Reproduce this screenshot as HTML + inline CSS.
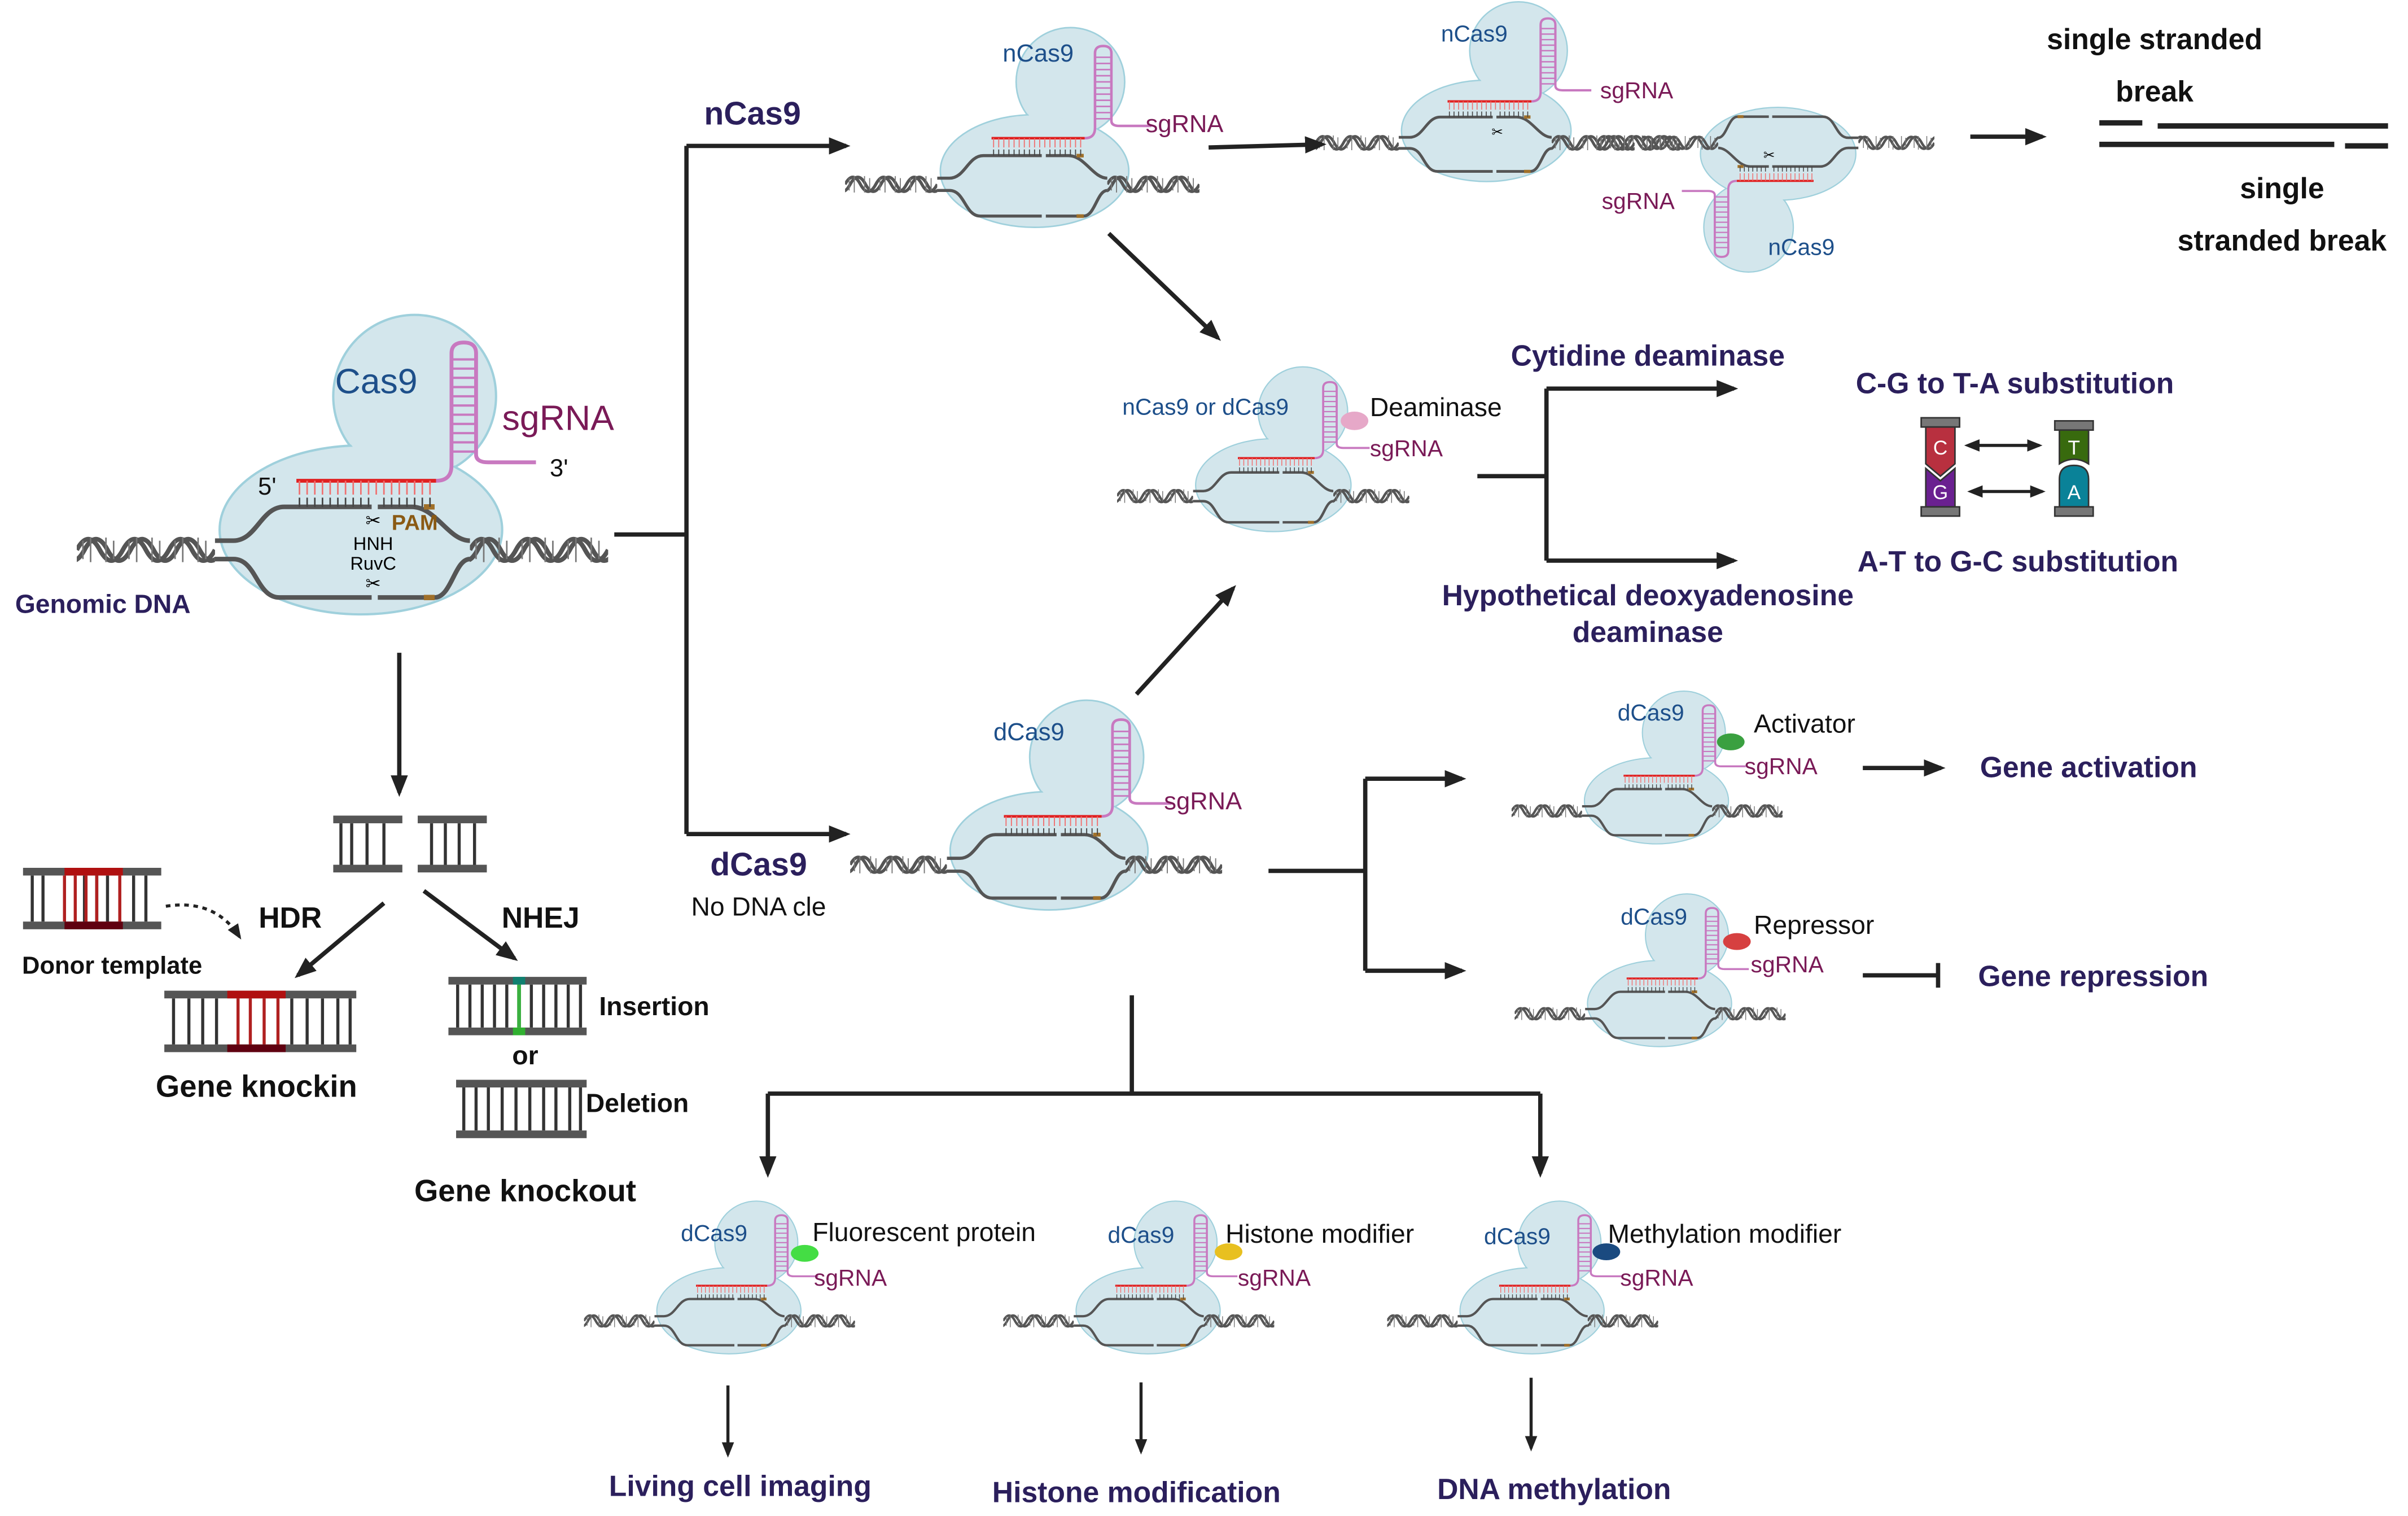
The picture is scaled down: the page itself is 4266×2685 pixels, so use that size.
<!DOCTYPE html>
<html><head><meta charset="utf-8"><style>
html,body{margin:0;padding:0;background:#fff;}
svg{display:block;}
text{font-family:"Liberation Sans",sans-serif;}
.b{font-weight:bold;fill:#111;font-size:19px;}
.p{font-weight:bold;fill:#2b1f5c;font-size:19px;}
.blue{fill:#1d4f8a;font-size:15px;}
.sg{fill:#7a1a57;font-size:15px;}
.blk{fill:#111;font-size:17px;}
</style></head><body>
<svg width="4266" height="2685" viewBox="0 0 1568 987" preserveAspectRatio="none" xmlns="http://www.w3.org/2000/svg">
<defs>
<marker id="ah" markerWidth="5" markerHeight="4" refX="4" refY="2" orient="auto" markerUnits="strokeWidth"><path d="M0,0 L5,2 L0,4z" fill="#222"/></marker>
<marker id="ah2" markerWidth="5" markerHeight="4" refX="1" refY="2" orient="auto-start-reverse" markerUnits="strokeWidth"><path d="M0,0 L5,2 L0,4z" fill="#222"/></marker>
<clipPath id="hc"><rect x="0" y="-15" width="90" height="30"/></clipPath>
<g id="helix">
<g clip-path="url(#hc)">
<path d="M0,0 q7.5,-14 15,0 t15,0 t15,0 t15,0 t15,0 t15,0" fill="none" stroke="#555" stroke-width="3"/>
<path d="M-10,0 q7.5,14 15,0 t15,0 t15,0 t15,0 t15,0 t15,0 t15,0" fill="none" stroke="#555" stroke-width="3"/>
<path d="M4,-6v12M9,-8v16M19,-8v16M24,-6v12M34,-6v12M39,-8v16M49,-8v16M54,-6v12M64,-6v12M69,-8v16M79,-8v16M84,-6v12" stroke="#777" stroke-width="1"/>
</g>
</g>
<g id="cx">
<circle cx="48" cy="-100" r="53" fill="#d3e6ec" stroke="#9fd0dc" stroke-width="1.5"/>
<ellipse cx="13" cy="-13" rx="92" ry="55" fill="#d3e6ec" stroke="#9fd0dc" stroke-width="1.5"/>
<circle cx="48" cy="-100" r="52" fill="#d3e6ec"/>
<ellipse cx="13" cy="-13" rx="91" ry="54" fill="#d3e6ec"/>
<use href="#helix" x="-172" y="0"/>
<use href="#helix" x="84" y="0"/>
<path d="M-82,-6 H-70 C-55,-6 -52,-28 -37,-28 H20 M24,-28 H46 C62,-28 70,-6 84,-6" fill="none" stroke="#555" stroke-width="3"/>
<path d="M-82,6 H-70 C-55,6 -55,31 -40,31 H20 M24,31 H61 C72,31 74,6 84,6" fill="none" stroke="#555" stroke-width="3"/>
<path d="M54,-28H61M54,31H61" stroke="#a0702a" stroke-width="3.5"/>
<path d="M-29,-45 H62" stroke="#e02020" stroke-width="2.5"/>
<path d="M-27,-45v9M-22,-45v9M-17,-45v9M-12,-45v9M-7,-45v9M-2,-45v9M3,-45v9M8,-45v9M13,-45v9M18,-45v9M23,-45v9M28,-45v9M33,-45v9M38,-45v9M43,-45v9M48,-45v9M53,-45v9M58,-45v9" stroke="#f07070" stroke-width="1"/>
<path d="M-27,-34v6M-22,-34v6M-17,-34v6M-12,-34v6M-7,-34v6M-2,-34v6M3,-34v6M8,-34v6M13,-34v6M18,-34v6M28,-34v6M33,-34v6M38,-34v6M43,-34v6M48,-34v6M53,-34v6M58,-34v6" stroke="#444" stroke-width="1"/>
<path d="M62,-45 Q72,-45 72,-55 L72,-128 Q72,-135 80,-135 Q88,-135 88,-128 L88,-62 Q88,-57 96,-57 L127,-57" fill="none" stroke="#c879c0" stroke-width="2.5"/>
<path d="M72,-124h16M72,-118h16M72,-112h16M72,-106h16M72,-100h16M72,-94h16M72,-88h16M72,-82h16M72,-76h16M72,-70h16M72,-64h16" stroke="#c879c0" stroke-width="1.5"/>
</g>
</defs>

<use href="#cx" transform="translate(222,358)"/>
<text x="245" y="256" text-anchor="middle" style="fill:#1d4f8a;font-size:23px">Cas9</text>
<text x="327" y="280" style="fill:#7a1a57;font-size:23px">sgRNA</text>
<text x="358" y="310" style="fill:#111;font-size:16px">3'</text>
<text x="168" y="322" style="fill:#111;font-size:16px">5'</text>
<text x="243" y="343" text-anchor="middle" style="font-size:12px">✂</text>
<text x="255" y="345" style="fill:#8a5a14;font-size:14px;font-weight:bold">PAM</text>
<text x="243" y="358" text-anchor="middle" style="font-size:12px">HNH</text>
<text x="243" y="371" text-anchor="middle" style="font-size:12px">RuvC</text>
<text x="243" y="384" text-anchor="middle" style="font-size:12px">✂</text>
<text x="67" y="399" text-anchor="middle" class="p" style="font-size:17px">Genomic DNA</text>

<use href="#cx" transform="translate(665,120) scale(0.667)"/>
<text x="676" y="40" text-anchor="middle" class="blue" style="font-size:16px">nCas9</text>
<text x="746" y="86" class="sg" style="font-size:16px">sgRNA</text>

<use href="#helix" transform="translate(1040,93) scale(0.6)"/>
<use href="#cx" transform="translate(960,93) scale(0.6)"/>
<use href="#cx" transform="translate(1165,93) scale(-0.55,-0.55)"/>
<text x="960" y="27" text-anchor="middle" class="blue">nCas9</text>
<text x="1042" y="64" class="sg">sgRNA</text>
<text x="1043" y="136" class="sg">sgRNA</text>
<text x="1173" y="166" text-anchor="middle" class="blue">nCas9</text>
<text x="975" y="89" text-anchor="middle" style="font-size:9px">✂</text>
<text x="1152" y="104" text-anchor="middle" style="font-size:9px">✂</text>

<use href="#cx" transform="translate(822,323) scale(0.55)"/>
<text x="785" y="270" text-anchor="middle" class="blue">nCas9 or dCas9</text>
<ellipse cx="882" cy="274" rx="9" ry="6" fill="#e6a8c8"/>
<text x="892" y="271" class="blk">Deaminase</text>
<text x="892" y="297" class="sg">sgRNA</text>

<use href="#cx" transform="translate(674,563) scale(0.7)"/>
<text x="670" y="482" text-anchor="middle" class="blue" style="font-size:16px">dCas9</text>
<text x="758" y="527" class="sg" style="font-size:16px">sgRNA</text>

<use href="#cx" transform="translate(1072,528) scale(0.51)"/>
<text x="1075" y="469" text-anchor="middle" class="blue">dCas9</text>
<ellipse cx="1127" cy="483" rx="9" ry="5.5" fill="#3aa040"/>
<text x="1142" y="477" class="blk">Activator</text>
<text x="1136" y="504" class="sg">sgRNA</text>
<use href="#cx" transform="translate(1074,660) scale(0.51)"/>
<text x="1077" y="602" text-anchor="middle" class="blue">dCas9</text>
<ellipse cx="1131" cy="613" rx="9" ry="5.5" fill="#d64040"/>
<text x="1142" y="608" class="blk">Repressor</text>
<text x="1140" y="633" class="sg">sgRNA</text>

<use href="#cx" transform="translate(468,860) scale(0.51)"/>
<text x="465" y="808" text-anchor="middle" class="blue">dCas9</text>
<ellipse cx="524" cy="816" rx="9" ry="5.5" fill="#44dd44"/>
<text x="529" y="808" class="blk">Fluorescent protein</text>
<text x="530" y="837" class="sg">sgRNA</text>
<use href="#cx" transform="translate(741,860) scale(0.51)"/>
<text x="743" y="809" text-anchor="middle" class="blue">dCas9</text>
<ellipse cx="800" cy="815" rx="9" ry="5.5" fill="#e8c020"/>
<text x="798" y="809" class="blk">Histone modifier</text>
<text x="806" y="837" class="sg">sgRNA</text>
<use href="#cx" transform="translate(991,860) scale(0.51)"/>
<text x="988" y="810" text-anchor="middle" class="blue">dCas9</text>
<ellipse cx="1046" cy="815" rx="9" ry="5.5" fill="#1a4a80"/>
<text x="1047" y="809" class="blk">Methylation modifier</text>
<text x="1055" y="837" class="sg">sgRNA</text>

<g stroke="#222" stroke-width="2.8" fill="none">
<path d="M400,348H447M447,95V543"/>
<path d="M447,95H551" marker-end="url(#ah)"/>
<path d="M447,543H551" marker-end="url(#ah)"/>
<path d="M787,96L861,94" marker-end="url(#ah)"/>
<path d="M1283,89H1330" marker-end="url(#ah)"/>
<path d="M722,152L793,220" marker-end="url(#ah)"/>
<path d="M740,452L803,383" marker-end="url(#ah)"/>
<path d="M962,310H1007M1007,253V365"/>
<path d="M1007,253H1129" marker-end="url(#ah)"/>
<path d="M1007,365H1129" marker-end="url(#ah)"/>
<path d="M826,567H889M889,507V632"/>
<path d="M889,507H952" marker-end="url(#ah)"/>
<path d="M889,632H952" marker-end="url(#ah)"/>
<path d="M1213,500H1264" marker-end="url(#ah)"/>
<path d="M1213,635H1262M1262,627V643"/>
<path d="M737,648V712M500,712H1003"/>
<path d="M500,712V764" marker-end="url(#ah)"/>
<path d="M1003,712V764" marker-end="url(#ah)"/>
<path d="M260,425V516" marker-end="url(#ah)"/>
<path d="M250,588L194,635" marker-end="url(#ah)"/>
<path d="M276,580L335,624" marker-end="url(#ah)"/>
</g>
<g stroke="#222" stroke-width="2" fill="none">
<path d="M474,902V947" marker-end="url(#ah)"/>
<path d="M743,900V945" marker-end="url(#ah)"/>
<path d="M997,897V943" marker-end="url(#ah)"/>
<path d="M1287,290H1328" marker-end="url(#ah)" marker-start="url(#ah2)"/>
<path d="M1289,320H1330" marker-end="url(#ah)" marker-start="url(#ah2)"/>
<path d="M108,590 Q140,585 156,610" stroke-dasharray="3,3" marker-end="url(#ah)"/>
</g>

<g stroke="#222" stroke-width="3.5">
<path d="M1367,80H1395M1405,82H1555M1367,94H1520M1527,95H1555"/>
</g>
<text x="1403" y="32" text-anchor="middle" class="b">single stranded</text>
<text x="1403" y="66" text-anchor="middle" class="b">break</text>
<text x="1486" y="129" text-anchor="middle" class="b">single</text>
<text x="1486" y="163" text-anchor="middle" class="b">stranded break</text>

<text x="490" y="81" text-anchor="middle" class="p" style="font-size:21px">nCas9</text>
<text x="494" y="570" text-anchor="middle" class="p" style="font-size:21px">dCas9</text>
<text x="494" y="596" text-anchor="middle" class="blk">No DNA cle</text>
<text x="1073" y="238" text-anchor="middle" class="p">Cytidine deaminase</text>
<text x="1073" y="394" text-anchor="middle" class="p">Hypothetical deoxyadenosine</text>
<text x="1073" y="418" text-anchor="middle" class="p">deaminase</text>
<text x="1312" y="256" text-anchor="middle" class="p">C-G to T-A substitution</text>
<text x="1314" y="372" text-anchor="middle" class="p">A-T to G-C substitution</text>
<text x="1360" y="506" text-anchor="middle" class="p">Gene activation</text>
<text x="1363" y="642" text-anchor="middle" class="p">Gene repression</text>
<text x="482" y="974" text-anchor="middle" class="p">Living cell imaging</text>
<text x="740" y="978" text-anchor="middle" class="p">Histone modification</text>
<text x="1012" y="976" text-anchor="middle" class="p">DNA methylation</text>

<g stroke="#333" stroke-width="1">
<rect x="1251" y="272" width="25" height="6" fill="#777"/>
<path d="M1254,278H1273V302L1263.5,310L1254,302Z" fill="#b8303f"/>
<path d="M1254,305L1263.5,313L1273,305V330H1254Z" fill="#6a2090"/>
<rect x="1251" y="330" width="25" height="6" fill="#777"/>
<rect x="1338" y="274" width="25" height="6" fill="#777"/>
<path d="M1341,280H1360V302Q1350.5,296 1341,302Z" fill="#386a0e"/>
<path d="M1341,330V312Q1341,303 1350.5,303Q1360,303 1360,312V330Z" fill="#0a8298"/>
<rect x="1338" y="330" width="25" height="6" fill="#777"/>
</g>
<g fill="#fff" font-size="13" text-anchor="middle">
<text x="1263.5" y="296">C</text><text x="1263.5" y="325">G</text>
<text x="1350.5" y="296">T</text><text x="1350.5" y="325">A</text>
</g>

<g stroke-width="2">
<g stroke="#333"><path d="M222,536v28M229,536v28M239,536v28M250,536v28M281,536v28M290,536v28M299,536v28M309,536v28"/></g>
<rect x="217" y="531" width="45" height="5" fill="#555"/><rect x="217" y="563" width="45" height="5" fill="#555"/>
<rect x="272" y="531" width="45" height="5" fill="#555"/><rect x="272" y="563" width="45" height="5" fill="#555"/>
<g stroke="#333"><path d="M21,570v30M28,570v30M55,570v30M63,570v30M70,570v30M87,570v30M95,570v30"/></g>
<g stroke="#b02020"><path d="M42,570v30M49,570v30M56,570v30M78,570v30M63,570v30"/></g>
<rect x="15" y="565" width="90" height="5" fill="#555"/><rect x="15" y="600" width="90" height="5" fill="#555"/>
<rect x="42" y="565" width="38" height="5" fill="#b01010"/><rect x="42" y="600" width="38" height="5" fill="#600010"/>
<g stroke="#333"><path d="M113,650v30M123,650v30M132,650v30M141,650v30M190,650v30M200,650v30M210,650v30M220,650v30M228,650v30"/></g>
<g stroke="#b02020"><path d="M155,650v30M163,650v30M172,650v30M181,650v30"/></g>
<rect x="107" y="645" width="125" height="5" fill="#555"/><rect x="107" y="680" width="125" height="5" fill="#555"/>
<rect x="148" y="645" width="38" height="5" fill="#b01010"/><rect x="148" y="680" width="38" height="5" fill="#600010"/>
<g stroke="#333"><path d="M298,641v28M306,641v28M314,641v28M322,641v28M330,641v28M346,641v28M354,641v28M362,641v28M370,641v28M378,641v28"/></g>
<path d="M338,641v28" stroke="#3ab040" stroke-width="2.5"/>
<rect x="292" y="636" width="90" height="5" fill="#555"/><rect x="292" y="669" width="90" height="5" fill="#555"/>
<rect x="334" y="636" width="8" height="5" fill="#108070"/><rect x="334" y="669" width="8" height="5" fill="#30b030"/>
<g stroke="#333"><path d="M302,708v28M310,708v28M318,708v28M327,708v28M336,708v28M345,708v28M354,708v28M362,708v28M371,708v28M378,708v28"/></g>
<rect x="297" y="703" width="85" height="5" fill="#555"/><rect x="297" y="736" width="85" height="5" fill="#555"/>
</g>
<text x="73" y="634" text-anchor="middle" class="b" style="font-size:16px">Donor template</text>
<text x="189" y="604" text-anchor="middle" class="b">HDR</text>
<text x="352" y="604" text-anchor="middle" class="b">NHEJ</text>
<text x="167" y="714" text-anchor="middle" class="b" style="font-size:20px">Gene knockin</text>
<text x="426" y="661" text-anchor="middle" class="b" style="font-size:17px">Insertion</text>
<text x="342" y="693" text-anchor="middle" class="b" style="font-size:17px">or</text>
<text x="415" y="724" text-anchor="middle" class="b" style="font-size:17px">Deletion</text>
<text x="342" y="782" text-anchor="middle" class="b" style="font-size:20px">Gene knockout</text>
</svg>
</body></html>
